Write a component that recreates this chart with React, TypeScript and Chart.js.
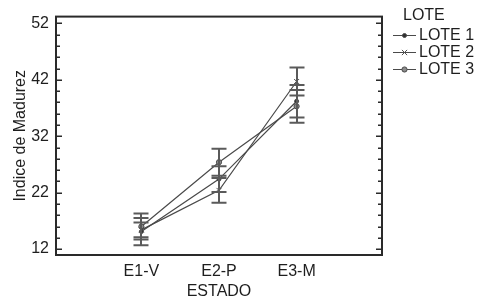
import React, { useEffect, useRef } from 'react';
import { Chart, registerables } from 'chart.js';

Chart.register(...registerables);

const categories = ['E1-V', 'E2-P', 'E3-M'];
const seriesNames = ['LOTE 1', 'LOTE 2', 'LOTE 3'];
const lote1 = [15.1, 24.4, 38.2];
const lote2 = [15.4, 22.4, 41.7];
const lote3 = [16.0, 27.4, 37.3];
const err1 = [2.4, 2.3, 2.9];
const err2 = [1.3, 2.2, 2.5];
const err3 = [2.3, 2.4, 2.9];
const yTicks = [12, 22, 32, 42, 52];
const yMinorStep = 2;
const legendTitle = 'LOTE';
const xTitle = 'ESTADO';
const yTitle = 'Indice de Madurez';

const FONT_FAMILY = '"Liberation Sans", Arial, Helvetica, sans-serif';
const FONT_SIZE = 16;
const TEXT = '#1e1e1e';
const LINE = '#4a4a4a';
const BAR = '#5a5a5a';

const seriesValues = [lote1, lote2, lote3];
const seriesErrors = [err1, err2, err3];
const pointStyles = ['circle', 'crossRot', 'circle'];
const pointRadii = [2, 3.5, 2.6];
const pointFills = ['#303030', '#505050', '#8a8a8a'];

function drawMarker(ctx: CanvasRenderingContext2D, i: number, x: number, y: number) {
  ctx.save();
  if (pointStyles[i] === 'crossRot') {
    const r = pointRadii[i] * 0.75;
    ctx.strokeStyle = pointFills[i];
    ctx.lineWidth = 1;
    ctx.beginPath();
    ctx.moveTo(x - r, y - r);
    ctx.lineTo(x + r, y + r);
    ctx.moveTo(x - r, y + r);
    ctx.lineTo(x + r, y - r);
    ctx.stroke();
  } else {
    ctx.fillStyle = pointFills[i];
    ctx.strokeStyle = LINE;
    ctx.lineWidth = 1;
    ctx.beginPath();
    ctx.arc(x, y, pointRadii[i], 0, Math.PI * 2);
    ctx.fill();
    ctx.stroke();
  }
  ctx.restore();
}

const framePlugin = {
  id: 'frameAndErrors',
  afterDatasetsDraw(chart: any) {
    const { ctx, chartArea: a, scales } = chart;
    const xs = scales.x;
    const ys = scales.y;
    ctx.save();
    // error bars
    ctx.strokeStyle = BAR;
    ctx.lineWidth = 2;
    seriesValues.forEach((vals, si) => {
      vals.forEach((v, i) => {
        const e = seriesErrors[si][i];
        const px = Math.round(xs.getPixelForValue(i));
        const top = ys.getPixelForValue(v + e);
        const bot = ys.getPixelForValue(v - e);
        ctx.beginPath();
        ctx.moveTo(px, top);
        ctx.lineTo(px, bot);
        ctx.moveTo(px - 7.5, top);
        ctx.lineTo(px + 7.5, top);
        ctx.moveTo(px - 7.5, bot);
        ctx.lineTo(px + 7.5, bot);
        ctx.stroke();
      });
    });
    // frame
    ctx.strokeStyle = '#2a2a2a';
    ctx.lineWidth = 2;
    ctx.strokeRect(a.left, a.top, a.right - a.left, a.bottom - a.top);
    // inward ticks
    ctx.lineWidth = 1.5;
    const lo = yTicks[0];
    const hi = yTicks[yTicks.length - 1];
    for (let v = lo; v <= hi; v += yMinorStep) {
      const py = Math.round(ys.getPixelForValue(v)) + 0.25;
      const len = yTicks.includes(v) ? 6 : 4;
      ctx.beginPath();
      ctx.moveTo(a.left, py);
      ctx.lineTo(a.left + len, py);
      ctx.moveTo(a.right, py);
      ctx.lineTo(a.right - len, py);
      ctx.stroke();
    }
    // legend
    ctx.font = `${FONT_SIZE}px ${FONT_FAMILY}`;
    ctx.fillStyle = TEXT;
    ctx.textBaseline = 'middle';
    ctx.textAlign = 'left';
    ctx.fillText(legendTitle, 403, 16);
    seriesNames.forEach((name, i) => {
      const y = 35.5 + i * 17;
      ctx.strokeStyle = LINE;
      ctx.lineWidth = 1;
      ctx.beginPath();
      ctx.moveTo(393, y);
      ctx.lineTo(416, y);
      ctx.stroke();
      drawMarker(ctx, i, 404.5, y);
      ctx.fillStyle = TEXT;
      ctx.fillText(name, 419, y + 0.5);
    });
    ctx.restore();
  },
};

export default function App() {
  const ref = useRef<HTMLCanvasElement>(null);
  useEffect(() => {
    document.body.style.margin = '0';
    const canvas = ref.current;
    if (!canvas) return;
    const font = { family: FONT_FAMILY, size: FONT_SIZE };
    const chart = new Chart(canvas, {
      type: 'line',
      data: {
        datasets: seriesValues.map((vals, si) => ({
          label: seriesNames[si],
          data: vals.map((v, i) => ({ x: i, y: v })),
          borderColor: LINE,
          borderWidth: 1.2,
          backgroundColor: pointFills[si],
          pointStyle: pointStyles[si] as any,
          pointRadius: pointRadii[si],
          pointBorderColor: si === 1 ? pointFills[si] : LINE,
          pointBorderWidth: 1,
          fill: false,
          tension: 0,
        })),
      },
      options: {
        animation: false,
        responsive: false,
        devicePixelRatio: 1,
        layout: { padding: { left: 0, top: 12, right: 96, bottom: 0 } },
        plugins: { legend: { display: false }, tooltip: { enabled: false }, title: { display: false } },
        scales: {
          x: {
            type: 'linear',
            min: -1.1,
            max: 3.1,
            afterBuildTicks: (s: any) => {
              s.ticks = categories.map((_, i) => ({ value: i }));
            },
            afterFit: (s: any) => {
              s.height = 48;
            },
            grid: { display: false, drawTicks: false },
            border: { display: false },
            ticks: {
              padding: 7,
              font,
              color: TEXT,
              autoSkip: false,
              maxRotation: 0,
              callback: (v: any) => categories[Math.round(Number(v))] ?? '',
            },
            title: { display: true, text: xTitle, font, color: TEXT, padding: { top: 0, bottom: 2 } },
          },
          y: {
            type: 'linear',
            min: 10.95,
            max: 53.2,
            afterBuildTicks: (s: any) => {
              s.ticks = yTicks.map((v) => ({ value: v }));
            },
            afterFit: (s: any) => {
              s.width = 56;
            },
            grid: { display: false, drawTicks: false },
            border: { display: false },
            ticks: { padding: 7, font, color: TEXT, autoSkip: false },
            title: { display: true, text: yTitle, font, color: TEXT, padding: { top: 11, bottom: 0 } },
          },
        },
      },
      plugins: [framePlugin],
    });
    return () => chart.destroy();
  }, []);
  return (
    <div style={{ width: 478, height: 303, background: '#fff' }}>
      <canvas ref={ref} width={478} height={303} style={{ display: 'block', width: '478px', height: '303px' }} />
    </div>
  );
}
